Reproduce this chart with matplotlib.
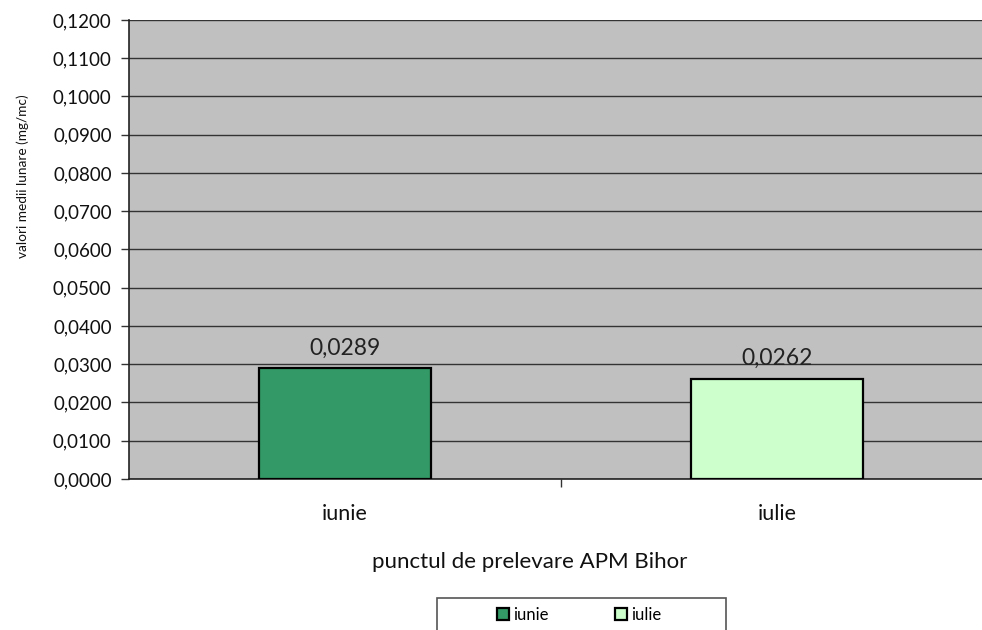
import matplotlib.pyplot as plt
from matplotlib.patches import Rectangle
from matplotlib.ticker import FuncFormatter, MultipleLocator

# data
luni = ["iunie", "iulie"]
valori = [0.0289, 0.0262]
culori = ["#339966", "#CCFFCC"]

plt.rcParams['font.family'] = ['Lato', 'DejaVu Sans']

fig = plt.figure(figsize=(9.82, 6.30), dpi=100)
ax = fig.add_axes([0.1314, 0.2397, 0.8798, 0.7286])
ax.set_facecolor("#C0C0C0")

x = range(len(luni))
bars = ax.bar(x, valori, width=0.4, color=culori, edgecolor="black", linewidth=1.6,
              label=luni, zorder=3)

# etichete valori
for b, v in zip(bars, valori):
    ax.annotate(f"{v:.4f}".replace(".", ","), (b.get_x() + b.get_width() / 2, v),
                xytext=(0, 7), textcoords="offset points",
                ha="center", va="bottom", fontsize=16.5, color="#222222", zorder=4)

ax.set_ylim(0, 0.12)
ax.set_xlim(-0.5, 1.5)
ax.yaxis.set_major_locator(MultipleLocator(0.01))
ax.yaxis.set_major_formatter(FuncFormatter(lambda v, p: f"{v:.4f}".replace(".", ",")))
ax.grid(axis="y", color="#333333", linewidth=1.0, zorder=1)
ax.set_axisbelow(True)

ax.set_xticks(list(x))
ax.set_xticklabels(luni)
ax.set_xticks([0.5], minor=True)
ax.tick_params(axis="x", which="major", length=0, pad=18, labelsize=15.5, labelcolor="#111111")
ax.tick_params(axis="x", which="minor", length=6, width=1, color="#333333")
ax.tick_params(axis="y", length=6, width=1, labelsize=13.5, color="#333333", pad=6.5,
               labelcolor="#111111")

for s in ["top", "right"]:
    ax.spines[s].set_visible(False)
ax.spines["left"].set_color("#222222")
ax.spines["bottom"].set_color("#222222")
ax.spines["left"].set_linewidth(1.2)
ax.spines["bottom"].set_linewidth(1.2)

ax.set_ylabel("valori medii lunare (mg/mc)", fontsize=9.8, color="#111111")
ax.yaxis.set_label_coords(-0.116, 0.66)
ax.set_xlabel("punctul de prelevare APM Bihor", fontsize=16, color="#111111")
ax.xaxis.set_label_coords(0.4636, -0.159)

# legenda
fig.patches.append(Rectangle((437 / 982, -0.01), 289 / 982, 32 / 630 + 0.01,
                             transform=fig.transFigure, facecolor="white",
                             edgecolor="#555555", linewidth=1.2))
leg = fig.legend(handles=list(bars), labels=luni, loc="center",
                 bbox_to_anchor=(579 / 982, 1 - 615 / 630), ncol=2, frameon=False,
                 fontsize=12, handlelength=0.72, handleheight=0.72,
                 columnspacing=3.95, handletextpad=0.25)

fig.savefig("out.png", dpi=100)
